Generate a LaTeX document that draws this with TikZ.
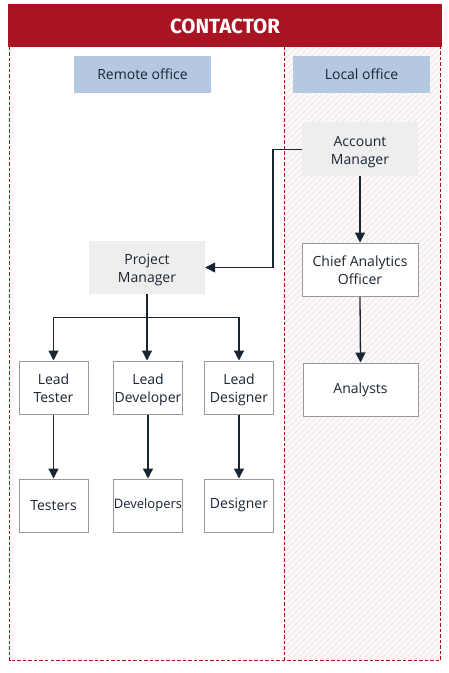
\documentclass[tikz,border=0pt]{standalone}
\usepackage{fontspec}
\setmainfont{Open Sans}
\newfontfamily\titlefont{Fira Sans}
\usetikzlibrary{arrows.meta}
\definecolor{redc}{HTML}{A91423}
\definecolor{ink}{HTML}{1A2533}
\definecolor{boxgray}{HTML}{999999}
\definecolor{lightgray}{HTML}{EEEEEE}
\definecolor{officeblue}{HTML}{B4C8E1}
\definecolor{hatchbase}{HTML}{FCF9F9}
\definecolor{hatchline}{HTML}{F5EAEB}
\newcommand\twolines[2]{\begin{tabular}{@{}c@{}}\rule{0pt}{18pt}#1\\#2\end{tabular}}
\begin{document}
\begin{tikzpicture}[x=1pt,y=-1pt,
  txt/.style={align=center, inner sep=0pt, font=\fontsize{14}{18}\selectfont, text=ink},
  box/.style={txt, draw=boxgray, line width=1pt, fill=white, minimum width=69pt, minimum height=53pt},
  widebox/.style={box, minimum width=116pt},
  graybox/.style={txt, fill=lightgray, minimum width=116pt, minimum height=53pt},
  office/.style={txt, fill=officeblue, minimum width=137pt, minimum height=37pt},
  arr/.style={draw=ink, line width=1.3pt, -{Triangle[length=10pt,width=10pt]}},
  conn/.style={draw=ink, line width=1.3pt},
  border/.style={draw=redc, line width=1pt, dash pattern=on 3.5pt off 2pt}
]
\useasboundingbox (0,0) rectangle (449,673);
% hatched local area
\begin{scope}
  \clip (284.5,46) rectangle (440.5,660);
  \fill[hatchbase] (284.5,46) rectangle (440.5,660);
  \foreach \i in {-700,-694,...,450} {
    \draw[hatchline, line width=1.3pt] (\i,660) -- ++(614,-614);
  }
\end{scope}
% header
\fill[redc] (8,4) rectangle (442,46.5);
\node[text=white, font=\titlefont\bfseries\fontsize{20.5}{24}\selectfont] (title) at (225,26) {CONTACTOR};
% dashed borders
\draw[border] (9.5,46.5) -- (9.5,660) -- (440.5,660) -- (440.5,46.5);
\draw[border] (284.5,46.5) -- (284.5,660);
% office labels
\node[office] (remote) at (142.5,74) {Remote office};
\node[office] (local) at (361.5,74) {Local office};
% local side
\node[graybox, minimum height=54pt] (am) at (360,149) {\twolines{Account}{Manager}};
\node[widebox] (cao) at (360,269.5) {\twolines{Chief Analytics}{Officer}};
\node[box, minimum width=115pt] (an) at (360.5,389.5) {Analysts};
% remote side
\node[graybox] (pm) at (147,267.5) {\twolines{Project}{Manager}};
\node[box] (lt) at (53.5,387.5) {\twolines{Lead}{Tester}};
\node[box] (ldv) at (148,387.5) {\twolines{Lead}{Developer}};
\node[box] (lds) at (239,387.5) {\twolines{Lead}{Designer}};
\node[box] (t) at (53.5,505.5) {Testers};
\node[box, font=\fontsize{13}{18}\selectfont] (dv) at (148,505.5) {Developers};
\node[box] (ds) at (239,505.5) {Designer};
% connectors
\coordinate (bend) at (273,149);
\draw[conn, line width=1pt] (am.west) -- (bend);
\draw[arr] (bend) |- (pm.east);
\draw[arr] (am.south) -- (cao.north);
\draw[arr] (cao.south) -- (an.north);
\draw[arr] (pm.south) -- (pm.south |- ldv.north);
\draw[arr] (pm.south) -- ++(0,23) -| (lt.north);
\draw[arr] (pm.south) -- ++(0,23) -| (lds.north);
\draw[arr] (lt.south) -- (t.north);
\draw[arr] (ldv.south) -- (dv.north);
\draw[arr] (lds.south) -- (ds.north);
\end{tikzpicture}
\end{document}
